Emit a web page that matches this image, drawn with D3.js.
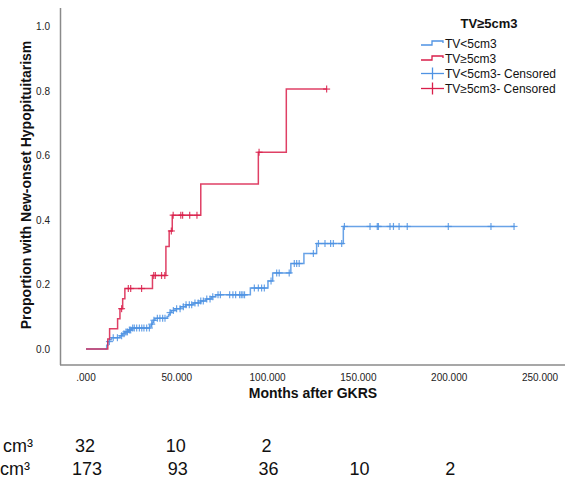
<!DOCTYPE html>
<html><head><meta charset="utf-8">
<script src="https://cdn.jsdelivr.net/npm/d3@7"></script>
<style>
html,body{margin:0;padding:0;background:#fff;}
svg{display:block;font-family:"Liberation Sans",Arial,sans-serif;}
</style></head>
<body><svg id="c" width="565" height="480"></svg>
<script>
// ---- data ----
const groups = ["TV<5cm3", "TV≥5cm3"];
const legendTitle = "TV≥5cm3";
// step curves: [months, cumulative proportion]
const blueSteps = [[0,0],[11.4,0.012],[12,0.023],[13,0.029],[14,0.035],[18.7,0.041],[20,0.047],[21.4,0.053],[23.3,0.059],[25,0.065],
  [35.2,0.071],[36,0.077],[36.5,0.083],[37,0.089],[38,0.095],[44.7,0.101],[45.5,0.107],[46.3,0.113],[47,0.119],[49,0.125],
  [52,0.131],[55,0.137],[59,0.143],[63,0.149],[66,0.155],[69,0.162],[71.4,0.168],[90.5,0.189],[100.2,0.211],[102.8,0.236],
  [112.8,0.265],[120,0.296],[127,0.327],[141.7,0.380]];
const blueEnd = 236;
const blueCensored = [12.9,15,17.3,19.6,20.9,22,22.8,23.9,24.6,25.7,26.6,27.9,29.4,30.7,31.9,33.4,34.9,36.2,37.4,39.3,40.7,42.2,43.5,
  46.3,48.1,49.9,51.8,53.6,55.1,56.9,58.2,60,61.8,63.2,64.6,66.5,68.3,69.8,72.7,74,79.1,80.9,82.4,84.6,85.5,86.4,87.3,
  92.7,94.9,96.7,98.2,101.9,105,106.4,111.9,114.7,116,117.4,125.2,128,131.6,134.7,136.2,140.8,142.3,156.4,160.4,161,
  167.4,169.3,172.4,176.9,199.5,223,235.7];
const redSteps = [[0,0],[12,0.031],[13,0.0625],[17.4,0.094],[18.7,0.125],[20.2,0.156],[21.4,0.1875],[36.6,0.228],[44,0.318],
  [45.8,0.366],[47.5,0.415],[63.2,0.512],[94.9,0.610],[110.3,0.806]];
const redEnd = 132.5;
const redCensored = [19.6,23.3,24.6,30.6,37.3,38.2,41.6,43.4,47,48,52.2,53.2,57.1,61.1,95.3,132.5];
const xTicks = [0,50,100,150,200,250];
const xTickLabels = [".000","50.000","100.000","150.000","200.000","250.000"];
const yTicks = [0,0.2,0.4,0.6,0.8,1.0];
const riskTimes = [0,50,100,150,200];
const riskRed = [32,10,2];
const riskBlue = [173,93,36,10,2];

// ---- drawing ----
const blue = "#4f93e3", red = "#d91e4a";
const svg = d3.select("#c");
const x = d3.scaleLinear().domain([0,250]).range([86,540]);
const y = d3.scaleLinear().domain([0,1]).range([349,26.5]);

// axes lines
svg.append("line").attr("x1",60.5).attr("x2",60.5).attr("y1",8).attr("y2",365).attr("stroke","#8a8a8a").attr("stroke-width",1.5);
svg.append("line").attr("x1",60).attr("x2",565).attr("y1",365).attr("y2",365).attr("stroke","#8a8a8a").attr("stroke-width",1.5);

// tick labels
svg.selectAll(".yt").data(yTicks).join("text").attr("class","yt")
  .attr("x",50).attr("y",d=>y(d)+3.5).attr("text-anchor","end").attr("font-size",10).attr("fill","#222")
  .text(d=>d.toFixed(1));
svg.selectAll(".xt").data(xTicks).join("text").attr("class","xt")
  .attr("x",d=>x(d)).attr("y",381).attr("text-anchor","middle").attr("font-size",10).attr("fill","#222")
  .text((d,i)=>xTickLabels[i]);

// titles
svg.append("text").attr("x",313).attr("y",398).attr("text-anchor","middle").attr("font-size",14)
  .attr("font-weight","bold").attr("fill","#111").text("Months after GKRS");
svg.append("text").attr("transform","translate(31,185) rotate(-90)").attr("text-anchor","middle")
  .attr("font-size",14).attr("font-weight","bold").attr("fill","#111").text("Proportion with New-onset Hypopituitarism");

// curves
const line = d3.line().x(d=>x(d[0])).y(d=>y(d[1])).curve(d3.curveStepAfter);
function levelAt(steps,t){let v=0;for(const s of steps){if(s[0]<=t)v=s[1];}return v;}
function drawCurve(steps,end,cens,color){
  const pts = steps.concat([[end, steps[steps.length-1][1]]]);
  svg.append("path").attr("d",line(pts)).attr("fill","none").attr("stroke",color).attr("stroke-width",1.5).attr("stroke-opacity",0.85);
  const g = svg.append("g").attr("stroke",color).attr("stroke-width",1.2).attr("stroke-opacity",0.85);
  cens.forEach(t=>{
    const cx=x(t), cy=y(levelAt(steps,t));
    g.append("line").attr("x1",cx).attr("x2",cx).attr("y1",cy-3.5).attr("y2",cy+3.5);
    g.append("line").attr("x1",cx-3.5).attr("x2",cx+3.5).attr("y1",cy).attr("y2",cy);
  });
}
drawCurve(blueSteps,blueEnd,blueCensored,blue);
drawCurve(redSteps,redEnd,redCensored,red);

// legend
svg.append("text").attr("x",489).attr("y",28).attr("text-anchor","middle").attr("font-size",13)
  .attr("font-weight","bold").attr("fill","#111").text(legendTitle);
const legItems = [
  {label:groups[0], color:blue, type:"step"},
  {label:groups[1], color:red, type:"step"},
  {label:groups[0]+"- Censored", color:blue, type:"cens"},
  {label:groups[1]+"- Censored", color:red, type:"cens"}];
legItems.forEach((it,i)=>{
  const cy = 43.5 + i*15;
  if(it.type==="step"){
    svg.append("path").attr("d",`M421,${cy+1.5}H432V${cy-2.5}H443V${cy-0.5}`).attr("fill","none")
      .attr("stroke",it.color).attr("stroke-width",1.3);
  } else {
    svg.append("line").attr("x1",421).attr("x2",444).attr("y1",cy).attr("y2",cy).attr("stroke",it.color).attr("stroke-width",1.3);
    svg.append("line").attr("x1",432.5).attr("x2",432.5).attr("y1",cy-6).attr("y2",cy+6).attr("stroke",it.color).attr("stroke-width",1.3);
  }
  svg.append("text").attr("x",445).attr("y",cy+4.5).attr("font-size",12).attr("fill","#111").text(it.label);
});

// number at risk table
const tbl = svg.append("g").attr("font-size",18).attr("fill","#111");
tbl.append("text").attr("x",3).attr("y",452).text("cm³");
tbl.append("text").attr("x",0).attr("y",475).text("cm³");
tbl.selectAll(".r1").data(riskRed).join("text").attr("class","r1").attr("x",(d,i)=>x(riskTimes[i])-1)
  .attr("y",452).attr("text-anchor","middle").text(d=>d);
tbl.selectAll(".r2").data(riskBlue).join("text").attr("class","r2").attr("x",(d,i)=>x(riskTimes[i])+1)
  .attr("y",475).attr("text-anchor","middle").text(d=>d);
</script></body></html>
